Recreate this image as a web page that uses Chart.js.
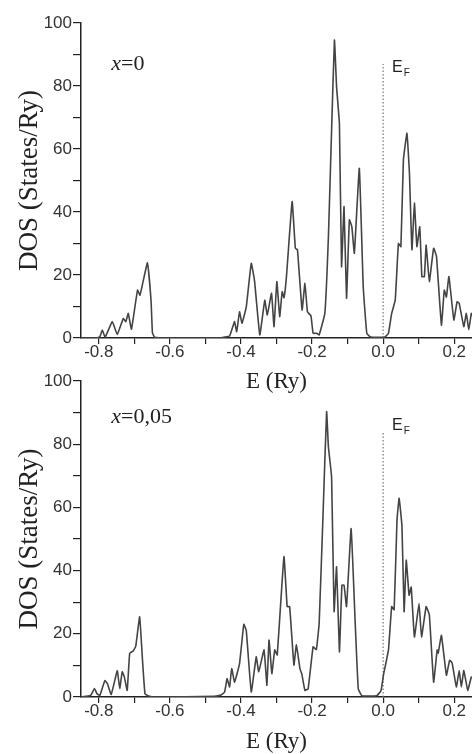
<!DOCTYPE html>
<html>
<head>
<meta charset="utf-8">
<script src="https://cdn.jsdelivr.net/npm/chart.js@4.4.1/dist/chart.umd.min.js"></script>
<style>
  body { margin: 0; background: #fff; width: 472px; height: 754px; position: relative; overflow: hidden; }
  canvas { position: absolute; left: 0; }
  #dosTop { top: 0; }
  #dosBottom { top: 358px; }
</style>
</head>
<body>
<canvas id="dosTop" width="472" height="400"></canvas>
<canvas id="dosBottom" width="472" height="396"></canvas>
<script>
// energies (Ry) and DOS (states/Ry), x = 0
const energyX0 = [-0.85, -0.805, -0.797, -0.790, -0.782, -0.762, -0.748, -0.731, -0.724, -0.717, -0.708,
  -0.691, -0.684, -0.663, -0.653, -0.649, -0.643, -0.63, -0.46, -0.446, -0.432, -0.423, -0.418, -0.412,
  -0.404, -0.397, -0.385, -0.371, -0.362, -0.347, -0.333, -0.326, -0.314, -0.307, -0.299, -0.291, -0.284,
  -0.279, -0.272, -0.256, -0.247, -0.241, -0.228, -0.220, -0.213, -0.203, -0.197, -0.187, -0.180, -0.164,
  -0.154, -0.145, -0.137, -0.131, -0.123, -0.117, -0.110, -0.103, -0.095, -0.088, -0.081, -0.067, -0.056,
  -0.046, -0.035, 0.005, 0.015, 0.024, 0.034, 0.043, 0.050, 0.057, 0.067, 0.074, 0.081, 0.088, 0.095,
  0.103, 0.109, 0.116, 0.121, 0.130, 0.142, 0.150, 0.164, 0.172, 0.178, 0.185, 0.199, 0.208, 0.214,
  0.227, 0.234, 0.241, 0.248, 0.25];
const dosX0 = [0, 0, 0.4, 2.5, 0.3, 5.2, 1.1, 6.2, 5.2, 7.8, 2.8,
  15.2, 13.6, 23.9, 12, 1.6, 0.3, 0, 0, 0.3, 0.6, 3.6, 5.2, 2.0,
  8.3, 4.7, 9.9, 23.7, 18.4, 1, 12, 7.3, 14.2, 3.6, 17.9, 6.8, 14.7,
  12.8, 19.5, 43.3, 28.5, 28, 8.9, 17.4, 8.4, 7, 1.5, 1.5, 1, 7.8,
  32, 66, 94.6, 79.8, 68, 22.6, 41.7, 12.6, 37.5, 35.3, 26.9, 53.9, 16.3,
  1.5, 0.3, 0.3, 1.5, 7.8, 12, 30, 29, 56.5, 65, 52.3, 28, 42.8, 29,
  35.3, 19.5, 19.5, 29.5, 17.9, 28.5, 26, 4.1, 15.2, 13, 19.5, 5.7, 11.5, 11,
  3.6, 7.8, 2.6, 7.8, 7];

// x = 0,05
const energyX005 = [-0.85, -0.823, -0.812, -0.805, -0.797, -0.783, -0.776, -0.765, -0.748, -0.741, -0.734,
  -0.728, -0.720, -0.713, -0.703, -0.696, -0.685, -0.677, -0.670, -0.660, -0.64, -0.475, -0.456, -0.446,
  -0.439, -0.432, -0.426, -0.418, -0.404, -0.392, -0.385, -0.371, -0.357, -0.350, -0.335, -0.327, -0.321,
  -0.313, -0.305, -0.298, -0.279, -0.270, -0.263, -0.251, -0.244, -0.234, -0.229, -0.220, -0.211, -0.197,
  -0.188, -0.180, -0.169, -0.159, -0.154, -0.145, -0.138, -0.131, -0.123, -0.116, -0.110, -0.103, -0.090,
  -0.079, -0.070, -0.060, -0.018, -0.006, 0.001, 0.015, 0.024, 0.031, 0.039, 0.045, 0.053, 0.059, 0.065,
  0.073, 0.079, 0.088, 0.101, 0.108, 0.121, 0.130, 0.142, 0.152, 0.155, 0.164, 0.178, 0.187, 0.194,
  0.206, 0.214, 0.220, 0.227, 0.238, 0.248, 0.25];
const dosX005 = [0, 0.5, 2.7, 1, 0.5, 5.2, 4.3, 0.8, 8.3, 2.7, 8,
  6.3, 2.1, 13.8, 14.6, 16, 25.4, 11.7, 1, 0.3, 0, 0.2, 0.6, 1.6,
  5.8, 3.2, 9, 4.7, 10.6, 23, 21, 1.6, 12.7, 8, 14.9, 3.7, 18,
  7.4, 14.9, 13.3, 44.4, 28.6, 28.6, 10.1, 16.5, 8.9, 7.4, 2.1, 2.6, 15.9,
  15, 23.3, 58, 90.3, 79.2, 69.6, 27, 41.2, 14.3, 35.4, 35.4, 28.6, 53.3,
  24.5, 2.6, 0.4, 0.4, 2, 7, 14.9, 28.6, 27.6, 56, 62.9, 54, 27, 43.3,
  32.2, 34.8, 19, 29.6, 19, 28.6, 26, 4.7, 14.9, 13.9, 19.5, 6.9, 11.6, 10.8,
  3.2, 8.4, 3.2, 8.4, 2.1, 6.3, 6];

const xMajorTicks = [-0.8, -0.6, -0.4, -0.2, 0.0, 0.2];
const xMinorTicks = [-0.7, -0.5, -0.3, -0.1, 0.1];
const fermiTop = [87, 84];   // height of dotted E_F line in each panel
const panelLabels = ['0', '0,05'];

const axisColor = '#222';
const serif = "'Liberation Serif', 'Times New Roman', serif";
const sans = "'Liberation Sans', Arial, sans-serif";

const textPlugin = {
  id: 'panelText',
  afterDatasetsDraw(chart, args, opts) {
    const ctx = chart.ctx;
    const xs = chart.scales.x, ys = chart.scales.y;
    ctx.save();
    ctx.fillStyle = '#222';
    ctx.textBaseline = 'middle';
    // x=... label
    let px = xs.getPixelForValue(opts.labelAt[0]);
    let py = ys.getPixelForValue(opts.labelAt[1]);
    ctx.font = 'italic 22px ' + serif;
    ctx.fillText('x', px, py);
    px += ctx.measureText('x').width;
    ctx.font = '22px ' + serif;
    ctx.fillText('=' + opts.label, px, py);
    // E_F
    px = xs.getPixelForValue(opts.efAt[0]);
    py = ys.getPixelForValue(opts.efAt[1]);
    ctx.font = '16px ' + sans;
    ctx.fillText('E', px, py);
    px += ctx.measureText('E').width + 1;
    ctx.font = '10px ' + sans;
    ctx.fillText('F', px, py + 6);
    ctx.restore();
  }
};

function makePanel(id, energy, dos, efHeight, label, canvasH, plotBottom, titlePad) {
  const points = energy.map((e, i) => ({x: e, y: dos[i]}));
  return new Chart(document.getElementById(id), {
    type: 'line',
    data: {
      datasets: [{
        data: points,
        borderColor: '#444',
        borderWidth: 1.6,
        pointRadius: 0,
        tension: 0.1,
        fill: false
      }, {
        data: [{x: 0, y: 0}, {x: 0, y: efHeight}],
        borderColor: '#777',
        borderWidth: 1.2,
        borderDash: [1.5, 2],
        pointRadius: 0
      }]
    },
    options: {
      responsive: false,
      animation: false,
      layout: {padding: {top: 23, right: 0, left: 0, bottom: 0}},
      plugins: {
        legend: {display: false},
        tooltip: {enabled: false},
        panelText: {label: label, labelAt: [-0.765, label === '0' ? 87 : 88.6], efAt: [0.025, 86]}
      },
      scales: {
        x: {
          type: 'linear',
          min: -0.85,
          max: 0.25,
          afterBuildTicks: (s) => { s.ticks = xMajorTicks.concat(xMinorTicks).sort((a, b) => a - b).map(v => ({value: v})); },
          afterFit: (s) => { s.height = canvasH - plotBottom; },
          ticks: {
            autoSkip: false,
            maxRotation: 0,
            padding: -2,
            color: '#333',
            font: {family: sans, size: 17},
            callback: (v) => xMajorTicks.includes(v) ? v.toFixed(1) : ''
          },
          grid: {drawOnChartArea: false, tickLength: 6, color: axisColor, lineWidth: 1.2},
          border: {color: axisColor, width: 1.5},
          title: {display: true, text: 'E (Ry)', color: '#222', font: {family: serif, size: 23}, padding: {top: 0, bottom: titlePad}}
        },
        y: {
          min: 0,
          max: 100,
          afterFit: (s) => { s.width = 81; },
          ticks: {
            stepSize: 10,
            padding: 1,
            color: '#333',
            font: {family: sans, size: 17},
            callback: (v) => v % 20 === 0 ? String(v) : ''
          },
          grid: {drawOnChartArea: false, tickLength: 8, color: axisColor, lineWidth: 1.2},
          border: {color: axisColor, width: 1.5},
          title: {display: true, text: 'DOS (States/Ry)', color: '#222', font: {family: serif, size: 27}, padding: {top: 14, bottom: 0}}
        }
      }
    },
    plugins: [textPlugin]
  });
}

makePanel('dosTop', energyX0, dosX0, fermiTop[0], panelLabels[0], 400, 338, 4);
makePanel('dosBottom', energyX005, dosX005, fermiTop[1], panelLabels[1], 396, 339, -2);
</script>
</body>
</html>
